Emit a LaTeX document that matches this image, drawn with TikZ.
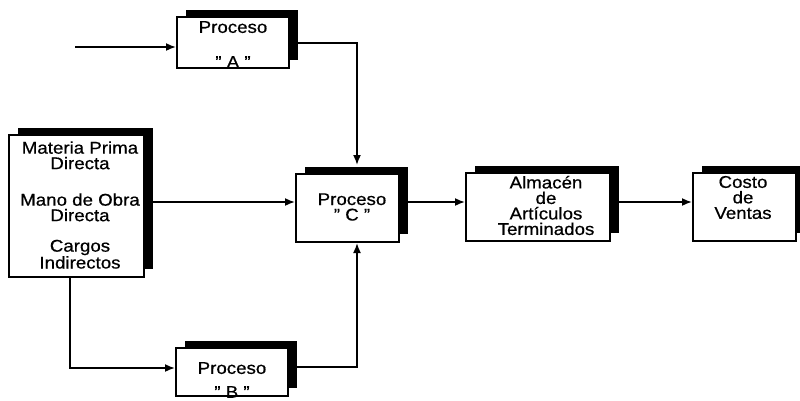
\documentclass[tikz,border=0pt]{standalone}
\usepackage{fontspec}
\setmainfont{Liberation Sans}[FakeStretch=1.1,FakeBold=0.6]
\usetikzlibrary{shadows,arrows.meta,calc}
\begin{document}
\begin{tikzpicture}[x=1pt,y=-1pt,
  box/.style={draw=black, line width=2.4pt, fill=white, inner sep=0pt,
    general shadow={fill=black, shadow xshift=9pt, shadow yshift=7.5pt}},
  txt/.style={align=center, inner sep=0pt, font=\fontsize{17}{15.5}\selectfont},
  arr/.style={line width=1.7pt, -{Latex[length=10pt,width=8pt]}}]
\useasboundingbox (0,0) rectangle (800,400);
% boxes
\node[box, minimum width=111.6pt, minimum height=50.6pt] (a) at (233,42.5) {};
\node[box, minimum width=134.6pt, minimum height=141.6pt] (m) at (76.5,206) {};
\node[box, minimum width=102.6pt, minimum height=67.6pt] (c) at (347.5,208) {};
\node[box, minimum width=143.6pt, minimum height=67.6pt] (al) at (538,207) {};
\node[box, minimum width=102.6pt, minimum height=67.6pt] (co) at (744.5,207) {};
\node[box, minimum width=111.6pt, minimum height=47.6pt] (b) at (232,372) {};
% texts
\node[txt] (at) at (233,44.5) {Proceso\\[19.5pt]" A "};
\node[txt] (mt) at (80,205) {Materia Prima\\Directa\\[21pt]Mano de Obra\\Directa\\[15pt]Cargos\\Indirectos};
\node[txt] (ct) at (352,207) {Proceso\\" C "};
\node[txt] (alt) at (546,205.5) {Almacén\\de\\Artículos\\Terminados};
\node[txt] (cot) at (743,197.5) {Costo\\de\\Ventas};
\node[txt] (bt) at (232,380) {Proceso\\[8.5pt]" B "};
% coordinates
\coordinate (inA) at (75,47);
\coordinate (row) at (0,202);
\coordinate (ar) at (357,43);
\coordinate (ctop) at ($(c.north)+(0,-8)$);
\coordinate (bl) at (70,368);
\coordinate (br) at (357,367);
% connectors
\draw[arr] (inA) -- (inA -| a.west);
\draw[arr] (ar -| a.east) -- (ar) -- (ar |- ctop);
\draw[arr] (row -| m.east) -- (row -| c.west);
\draw[arr] (row -| c.east) -- (row -| al.west);
\draw[arr] (row -| al.east) -- (row -| co.west);
\draw[arr] (bl |- m.south) -- (bl) -- (bl -| b.west);
\draw[arr] (br -| b.east) -- (br) -- (br |- c.south);
\end{tikzpicture}
\end{document}
